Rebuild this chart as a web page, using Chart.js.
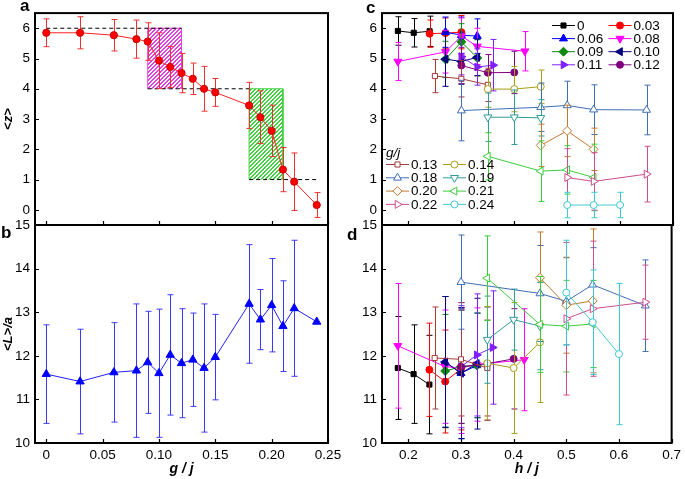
<!DOCTYPE html>
<html><head><meta charset="utf-8">
<script src="https://cdn.jsdelivr.net/npm/chart.js@4/dist/chart.umd.min.js"></script>
<style>
html,body{margin:0;padding:0;background:#fff;}
body{width:685px;height:479px;overflow:hidden;position:relative;}
canvas{position:absolute;left:0;top:0;}
</style></head><body>
<canvas id="ca" width="685" height="479"></canvas>
<canvas id="cb" width="685" height="479"></canvas>
<canvas id="cc" width="685" height="479"></canvas>
<canvas id="cd" width="685" height="479"></canvas>
<script>
// ---------- data: panels a & b (vs g/j) ----------
const aX = [0,0.03,0.06,0.08,0.09,0.10,0.11,0.12,0.13,0.14,0.15,0.18,0.19,0.20,0.21,0.22,0.24];
const aZ = [5.85,5.85,5.77,5.64,5.56,4.93,4.72,4.52,4.33,4.00,3.88,3.45,3.06,2.61,1.33,0.93,0.16];
const aZErr = [0.46,0.53,0.52,0.63,0.62,0.92,0.68,0.65,0.52,0.74,0.46,0.76,0.87,0.85,0.73,0.95,0.41];
const bL = [11.58,11.41,11.62,11.66,11.85,11.60,12.02,11.83,11.91,11.72,11.97,13.19,12.83,13.16,12.68,13.09,12.78];
const bLErr = [1.13,1.20,1.14,1.53,1.17,1.47,1.38,1.25,1.07,1.47,0.98,1.36,0.69,1.07,1.04,1.56,0];
// reference levels and shaded regions in panel a
const dash6X = [0,0.12], dash4X = [0.09,0.18], dash1X = [0.18,0.24];
const magBoxX = [0.09,0.12], magBoxY = [4,6];
const grnBoxX = [0.18,0.21], grnBoxY = [1,4];
// ticks
const abXTicks = [0,0.05,0.10,0.15,0.20,0.25];
const abXLabels = ['0','0.05','0.10','0.15','0.20','0.25'];
const aYTicks = [0,1,2,3,4,5,6];
const bYTicks = [10,11,12,13,14,15];
const cdXTicks = [0.2,0.3,0.4,0.5,0.6,0.7];
const cdXLabels = ['0.2','0.3','0.4','0.5','0.6','0.7'];

// ---------- data: panels c & d (vs h/j, one series per g/j) ----------
const gLabels = ['0','0.03','0.06','0.08','0.09','0.10','0.11','0.12','0.13','0.14','0.18','0.19','0.20','0.21','0.22','0.24'];
const hVals = [
 [0.18,0.21,0.24],[0.24,0.27,0.30],[0.27,0.30,0.33],[0.18,0.27,0.30,0.33,0.42],
 [0.27,0.30,0.33],[0.27,0.30,0.33],[0.30,0.33,0.36],[0.30,0.35,0.40],
 [0.25,0.30,0.35],[0.35,0.40,0.45],[0.30,0.45,0.50,0.55,0.65],[0.35,0.40,0.45],
 [0.45,0.50,0.55],[0.35,0.45,0.50,0.55],[0.50,0.55,0.65],[0.50,0.55,0.60]];
const zVals = [
 [5.91,5.85,5.90],[5.82,5.84,5.87],[5.87,5.77,5.74],[4.90,5.22,5.74,5.40,5.24],
 [4.97,5.55,5.02],[4.98,4.90,5.04],[5.06,4.72,4.78],[4.77,4.53,4.54],
 [4.42,4.33,4.13],[3.99,3.99,4.07],[3.28,3.39,3.45,3.31,3.30],[3.06,3.06,3.04],
 [2.13,2.61,2.00],[1.77,1.28,1.32,1.07],[1.07,0.94,1.18],[0.16,0.16,0.16]];
const zErrs = [
 [0.47,0.47,0.50],[0.45,0.50,0.55],[0.50,0.60,0.57],[0.63,0.70,0.60,0.60,0.65],
 [0.60,0.60,0.60],[0.90,0.75,0.60],[0.60,0.60,0.85],[0.60,0.60,0.70],
 [0.55,0.60,0.55],[0.60,0.75,0.55],[1.00,0.80,0.80,0.82,0.82],[0.80,0.90,0.60],
 [0.70,0.85,0.70],[0.78,1.00,0.80,1.10],[0.95,0.95,0.92],[0.42,0.42,0.42]];
const lVals = [
 [11.72,11.58,11.34],[11.68,11.41,11.70],[11.86,11.60,11.78],[12.23,11.75,11.72,11.80,11.91],
 [11.65,11.75,11.78],[11.86,11.60,11.82],[11.75,12.02,12.19],[11.75,11.82,11.93],
 [11.95,11.92,11.72],[11.83,11.72,12.31],[13.69,13.43,13.25,13.63,13.15],[12.37,12.83,12.68],
 [13.79,13.16,13.26],[13.78,12.72,12.68,12.73],[12.85,13.08,13.23],[13.45,12.77,12.04]];
const lErrs = [
 [1.18,1.13,1.13],[1.07,1.18,1.40],[1.50,1.50,1.20],[1.43,1.30,1.50,1.30,1.17],
 [1.30,1.30,1.20],[1.50,1.50,1.50],[1.40,1.40,1.30],[1.30,1.30,1.15],
 [1.17,1.30,1.10],[1.30,1.50,1.38],[1.08,1.10,1.00,0.85,1.05],[1.00,0.70,1.00],
 [1.05,1.10,1.65],[0.97,1.10,1.05,1.00],[1.75,1.55,0.85],[1.20,1.20,1.62]];

// ---------- styles ----------
const FAM = '"Liberation Sans", Arial, Helvetica, sans-serif';
Chart.defaults.font.family = FAM;
Chart.defaults.color = '#000';
const sColors = ['#000000','#ff0000','#0000ff','#ff00ff','#0a8a0a','#000080','#7f1fff','#800080',
                 '#a33b3b','#a89f17','#3f6eb3','#2f9b9b','#c07a32','#3ccc3c','#cc4d8e','#3ec8d4'];
const sShapes = ['rect','circle','triangle','triangle','rectRot','triangle','triangle','circle',
                 'rect','circle','triangle','triangle','rectRot','triangle','triangle','circle'];
const sRot = [0,0,0,180,0,-90,90,0, 0,0,0,180,0,-90,90,0];
const sFilled = [true,true,true,true,true,true,true,true,false,false,false,false,false,false,false,false];
function radiusFor(shape){ return shape==='rect'?3.6:shape==='circle'?3.5:shape==='rectRot'?4.5:4.6; }

function hatch(color){
  const c=document.createElement('canvas'); c.width=4; c.height=4;
  const g=c.getContext('2d'); g.fillStyle=color;
  for(let i=0;i<4;i++){ g.fillRect(3-i,i,2,1); g.fillRect(3-i-4,i,2,1); g.fillRect(3-i+4,i,2,1); }
  return g.createPattern(c,'repeat');
}

// ---------- plugins ----------
const errBars = { id:'errbars',
  beforeDatasetDraw(chart,args){
    const ds=chart.data.datasets[args.index];
    if(!ds.errors) return;
    const ctx=chart.ctx, xs=chart.scales.x, ys=chart.scales.y, ca=chart.chartArea;
    ctx.save(); ctx.beginPath(); ctx.rect(ca.left,ca.top,ca.right-ca.left,ca.bottom-ca.top); ctx.clip();
    ctx.strokeStyle = ds.errorColor || ds.borderColor; ctx.lineWidth=1;
    ds.data.forEach((p,j)=>{
      const e=ds.errors[j]; if(!e) return;
      const x=Math.round(xs.getPixelForValue(p.x))+0.5;
      const y1=ys.getPixelForValue(p.y+e), y2=ys.getPixelForValue(p.y-e);
      ctx.beginPath(); ctx.moveTo(x,y1); ctx.lineTo(x,y2);
      ctx.moveTo(x-3,y1); ctx.lineTo(x+3,y1); ctx.moveTo(x-3,y2); ctx.lineTo(x+3,y2); ctx.stroke();
    });
    ctx.restore();
  }};
const frame = { id:'frame',
  afterDraw(chart,args,o){
    const {left,top,right,bottom}=chart.chartArea, ctx=chart.ctx, xs=chart.scales.x, ys=chart.scales.y;
    ctx.save(); ctx.strokeStyle='#000';
    ctx.lineWidth=1.2; ctx.beginPath();
    xs.ticks.forEach(t=>{const px=Math.round(xs.getPixelForValue(t.value))+0.5; ctx.moveTo(px,bottom); ctx.lineTo(px,bottom-4);});
    ys.ticks.forEach(t=>{const py=Math.round(ys.getPixelForValue(t.value))+0.5; ctx.moveTo(left,py); ctx.lineTo(left+4,py);});
    ctx.stroke();
    ctx.lineWidth=2; ctx.strokeRect(left,top,right-left,bottom-top);
    (o.texts||[]).forEach(t=>{ctx.font=t.font; ctx.fillStyle='#000'; ctx.textAlign='left'; ctx.textBaseline='alphabetic'; ctx.fillText(t.text,t.x,t.y);});
    ctx.restore();
  }};
const legendPlug = { id:'legendPlug',
  afterDatasetsDraw(chart,args,o){
    if(!o.groups) return;
    const ctx=chart.ctx; ctx.save();
    o.groups.forEach(g=>{
      if(g.title){ ctx.font='italic 13.5px '+FAM; ctx.fillStyle='#000'; ctx.textBaseline='middle'; ctx.textAlign='left'; ctx.fillText(g.title,g.titleX,g.titleY); }
      g.items.forEach((idx,k)=>{
        const ds=chart.data.datasets[idx];
        const x0=g.x+(k%2)*g.colW, y=g.y+Math.floor(k/2)*g.rowH;
        ctx.strokeStyle=ds.borderColor; ctx.lineWidth=1;
        ctx.beginPath(); ctx.moveTo(x0,y+0.5); ctx.lineTo(x0+g.lineW,y+0.5); ctx.stroke();
        ctx.fillStyle=ds.pointBackgroundColor; ctx.strokeStyle=ds.borderColor; ctx.lineWidth=1;
        Chart.helpers.drawPoint(ctx,{pointStyle:ds.pointStyle,rotation:ds.pointRotation||0,radius:ds.pointRadius,borderWidth:1},x0+g.lineW/2,y+0.5);
        ctx.fillStyle='#000'; ctx.font='13.5px '+FAM; ctx.textBaseline='middle'; ctx.textAlign='left';
        ctx.fillText(ds.label,x0+g.lineW+2,y+1);
      });
    });
    ctx.restore();
  }};

// ---------- axis helpers ----------
function xAxis(min,max,ticks,labels,show,height,title){
  return { type:'linear', min, max,
    afterBuildTicks:s=>{ s.ticks = ticks.map(v=>({value:v})); },
    afterFit:s=>{ s.height = height; },
    grid:{display:false,drawTicks:false}, border:{display:false},
    ticks:{display:show,padding:4,maxRotation:0,autoSkip:false,callback:(v,i)=>labels[i],color:'#000',font:{size:13.5}},
    title:{display:!!title,text:title||'',padding:0,color:'#000',font:{size:14,weight:'bold',style:'italic'}} };
}
function yAxis(min,max,ticks,width,title){
  return { type:'linear', min, max,
    afterBuildTicks:s=>{ s.ticks = ticks.map(v=>({value:v})); },
    afterFit:s=>{ s.width = width; },
    grid:{display:false,drawTicks:false}, border:{display:false},
    ticks:{padding:5,autoSkip:false,callback:v=>String(v),color:'#000',font:{size:13.5}},
    title:{display:!!title,text:title||'',padding:{top:1,bottom:0},color:'#000',font:{size:13,weight:'bold',style:'italic'}} };
}
function baseOpts(pad,scales,plugins){
  return { responsive:false, animation:false, devicePixelRatio:1, layout:{padding:pad}, scales,
    plugins:Object.assign({legend:{display:false},tooltip:{enabled:false}},plugins) };
}
const pts=(xs,ys)=>xs.map((x,i)=>({x,y:ys[i]}));
const hLine=(xs,y)=>xs.map(x=>({x,y}));
const rectPts=(bx,by)=>[{x:bx[0],y:by[0]},{x:bx[0],y:by[1]},{x:bx[1],y:by[1]},{x:bx[1],y:by[0]}];

// ---------- panel a ----------
new Chart(document.getElementById('ca'),{ type:'line',
  data:{datasets:[
    {data:pts(aX,aZ),errors:aZErr,errorColor:'#f03030',borderColor:'#ff2020',borderWidth:1,order:0,
     pointStyle:'circle',pointRadius:3.6,pointBackgroundColor:'#ff0000',pointBorderColor:'#c80000',pointBorderWidth:1,fill:false,tension:0},
    {data:hLine(dash6X,6),borderColor:'#000',borderWidth:1,borderDash:[4,3],pointRadius:0,fill:false,order:1},
    {data:hLine(dash4X,4),borderColor:'#000',borderWidth:1,borderDash:[4,3],pointRadius:0,fill:false,order:1},
    {data:hLine(dash1X,1),borderColor:'#000',borderWidth:1,borderDash:[4,3],pointRadius:0,fill:false,order:1},
    {data:rectPts(magBoxX,magBoxY),fill:{value:magBoxY[0]},backgroundColor:hatch('#e040e0'),borderColor:'#e040e0',borderWidth:1,pointRadius:0,tension:0,order:2},
    {data:rectPts(grnBoxX,grnBoxY),fill:{value:grnBoxY[0]},backgroundColor:hatch('#40d040'),borderColor:'#40d040',borderWidth:1,pointRadius:0,tension:0,order:2}
  ]},
  options:baseOpts({left:0,top:9,right:357,bottom:254},
    {x:xAxis(-0.01,0.25,abXTicks,abXLabels,false,0,''), y:yAxis(-0.5,6.5,aYTicks,35,'<z>')},
    {frame:{texts:[{text:'a',x:20,y:11,font:'bold 17px '+FAM}]}}),
  plugins:[errBars,frame]
});

// ---------- panel b ----------
new Chart(document.getElementById('cb'),{ type:'line',
  data:{datasets:[
    {data:pts(aX,bL),errors:bLErr,errorColor:'#3a3aff',borderColor:'#2020ff',borderWidth:1,
     pointStyle:'triangle',pointRadius:4.8,pointBackgroundColor:'#0000ff',pointBorderColor:'#0000ff',pointBorderWidth:1,fill:false,tension:0}
  ]},
  options:baseOpts({left:0,top:225,right:357,bottom:1},
    {x:xAxis(-0.01,0.25,abXTicks,abXLabels,true,35,'g / j'), y:yAxis(10,15,bYTicks,35,'<L>/a')},
    {frame:{texts:[{text:'b',x:1,y:238,font:'bold 17px '+FAM}]}}),
  plugins:[errBars,frame]
});

// ---------- panels c & d ----------
function seriesSets(yv,ye){
  return gLabels.map((lab,i)=>({
    label:lab, data:pts(hVals[i],yv[i]), errors:ye[i], order:gLabels.length-i,
    borderColor:sColors[i], borderWidth:1, fill:false, tension:0,
    pointStyle:sShapes[i], pointRotation:sRot[i], pointRadius:radiusFor(sShapes[i]),
    pointBackgroundColor:sFilled[i]?sColors[i]:'#ffffff', pointBorderColor:sColors[i], pointBorderWidth:1
  }));
}
new Chart(document.getElementById('cc'),{ type:'line',
  data:{datasets:seriesSets(zVals,zErrs)},
  options:baseOpts({left:352,top:9,right:12,bottom:254},
    {x:xAxis(0.15,0.70,cdXTicks,cdXLabels,false,0,''), y:yAxis(-0.5,6.5,aYTicks,30,'')},
    {frame:{texts:[{text:'c',x:366,y:13,font:'bold 17px '+FAM}]},
     legendPlug:{groups:[
       {x:552,y:25,colW:56.5,rowH:13.1,lineW:23,items:[0,1,2,3,4,5,6,7]},
       {x:386,y:164,colW:57,rowH:13.3,lineW:23,title:'g/j',titleX:386,titleY:153,items:[8,9,10,11,12,13,14,15]}
     ]}}),
  plugins:[errBars,frame,legendPlug]
});
new Chart(document.getElementById('cd'),{ type:'line',
  data:{datasets:seriesSets(lVals,lErrs)},
  options:baseOpts({left:352,top:225,right:12,bottom:1},
    {x:xAxis(0.15,0.70,cdXTicks,cdXLabels,true,35,'h / j'), y:yAxis(10,15,bYTicks,30,'')},
    {frame:{texts:[{text:'d',x:347,y:240,font:'bold 17px '+FAM}]}}),
  plugins:[errBars,frame]
});
</script>
</body></html>
